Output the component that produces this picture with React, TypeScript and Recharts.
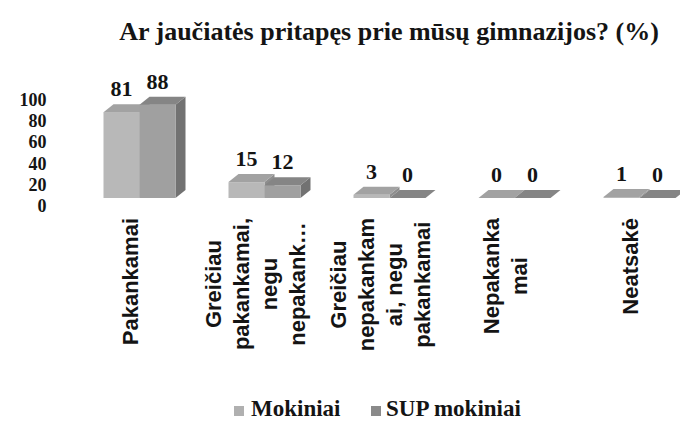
import React from 'react';
import { BarChart, Bar, XAxis, YAxis, Legend, LabelList } from 'recharts';

const title = 'Ar jaučiatės pritapęs prie mūsų gimnazijos? (%)';
const categories = [
  'Pakankamai',
  'Greičiau pakankamai, negu nepakankamai',
  'Greičiau nepakankamai, negu pakankamai',
  'Nepakankamai',
  'Neatsakė',
];
const categoryLines = [
  ['Pakankamai'],
  ['Greičiau', 'pakankamai,', 'negu', 'nepakank…'],
  ['Greičiau', 'nepakankam', 'ai, negu', 'pakankamai'],
  ['Nepakanka', 'mai'],
  ['Neatsakė'],
];
const seriesNames = ['Mokiniai', 'SUP mokiniai'];
const mokiniai = [81, 15, 3, 0, 1];
const supMokiniai = [88, 12, 0, 0, 0];
const yTicks = [0, 20, 40, 60, 80, 100];

const data = categories.map((c, i) => ({ name: c, m: mokiniai[i], s: supMokiniai[i] }));

const COLORS = {
  m: { front: '#b8b8b8', top: '#a2a2a2', side: '#8e8e8e', legend: '#b0b0b0' },
  s: { front: '#a0a0a0', top: '#858585', side: '#727272', legend: '#8a8a8a' },
};
const TEXT = '#141414';
const SERIF = "'Liberation Serif', 'Times New Roman', serif";
const SANS = "'Liberation Sans', Arial, sans-serif";
const CAT_FONT = `bold 22px ${SANS}`;

let ctx: CanvasRenderingContext2D | null = null;
const measure = (s: string) => {
  if (!ctx) ctx = document.createElement('canvas').getContext('2d');
  if (!ctx) return s.length * 12;
  ctx.font = CAT_FONT;
  return ctx.measureText(s).width;
};

const make3D = (c: { front: string; top: string; side: string }) => (props: any) => {
  const { x, y, width } = props;
  const h = Math.max(0, props.height || 0);
  const dx = 10;
  const dy = -8;
  return (
    <g>
      <polygon
        points={`${x + width},${y} ${x + width + dx},${y + dy} ${x + width + dx},${y + h + dy} ${x + width},${y + h}`}
        fill={c.side}
      />
      <rect x={x} y={y} width={width} height={h} fill={c.front} />
      <polygon
        points={`${x},${y} ${x + width},${y} ${x + width + dx},${y + dy} ${x + dx},${y + dy}`}
        fill={c.top}
      />
    </g>
  );
};

const renderLabel = (props: any) => {
  const { x, y, width, value } = props;
  return (
    <text
      x={x + width / 2}
      y={y - 16}
      textAnchor="middle"
      fontFamily={SERIF}
      fontWeight="bold"
      fontSize={22}
      fill={TEXT}
    >
      {value}
    </text>
  );
};

const YTick = (props: any) => {
  const { x, y, payload } = props;
  return (
    <text
      x={x}
      y={y + 8}
      textAnchor="end"
      dominantBaseline="central"
      fontFamily={SERIF}
      fontWeight="bold"
      fontSize={18}
      fill={TEXT}
    >
      {payload.value}
    </text>
  );
};

const CatTick = (props: any) => {
  const { x, y, payload } = props;
  const idx = categories.indexOf(payload.value);
  const lines = categoryLines[idx] || [String(payload.value)];
  const maxLen = Math.max(...lines.map(measure));
  const cy = y + maxLen / 2;
  const n = lines.length;
  return (
    <g>
      {lines.map((ln, i) => {
        const cx = x - 8 + (i - (n - 1) / 2) * 28;
        return (
          <text
            key={i}
            x={cx}
            y={cy}
            transform={`rotate(-90 ${cx} ${cy})`}
            textAnchor="middle"
            dominantBaseline="central"
            fontFamily={SANS}
            fontWeight="bold"
            fontSize={22}
            fill={TEXT}
          >
            {ln}
          </text>
        );
      })}
    </g>
  );
};

const LegendContent = () => (
  <div
    style={{
      height: 30,
      boxSizing: 'border-box',
      paddingTop: 4,
      paddingLeft: 234,
      display: 'flex',
      alignItems: 'flex-start',
      fontFamily: SERIF,
      fontWeight: 'bold',
      fontSize: 23,
      lineHeight: '24px',
      color: TEXT,
      whiteSpace: 'nowrap',
    }}
  >
    <div style={{ display: 'flex', alignItems: 'center', width: 137 }}>
      <span style={{ width: 10, height: 10, background: COLORS.m.legend, marginRight: 7, marginTop: 3 }} />
      <span>{seriesNames[0]}</span>
    </div>
    <div style={{ display: 'flex', alignItems: 'center' }}>
      <span style={{ width: 10, height: 10, background: COLORS.s.legend, marginRight: 5, marginTop: 3 }} />
      <span>{seriesNames[1]}</span>
    </div>
  </div>
);

export default function App() {
  return (
    <div
      style={{
        position: 'absolute',
        left: 0,
        top: 0,
        width: 680,
        height: 423,
        overflow: 'hidden',
        background: '#ffffff',
      }}
    >
      <div
        style={{
          position: 'absolute',
          top: 17,
          left: 389,
          transform: 'translateX(-50%)',
          whiteSpace: 'nowrap',
          fontFamily: SERIF,
          fontWeight: 'bold',
          fontSize: 26,
          lineHeight: '30px',
          color: TEXT,
          zIndex: 2,
        }}
      >
        {title}
      </div>
      <BarChart
        width={720}
        height={423}
        data={data}
        margin={{ top: 92, right: 18.5, left: 0, bottom: 0 }}
        barSize={36}
        barGap={0}
      >
        <YAxis
          type="number"
          domain={[0, 100]}
          ticks={yTicks}
          interval={0}
          width={76.5}
          axisLine={false}
          tickLine={false}
          tickSize={0}
          tickMargin={30}
          tick={<YTick />}
        />
        <XAxis
          dataKey="name"
          type="category"
          interval={0}
          height={195}
          axisLine={false}
          tickLine={false}
          tickSize={0}
          tickMargin={20}
          tick={<CatTick />}
        />
        <Legend verticalAlign="bottom" height={30} content={<LegendContent />} />
        <Bar dataKey="m" name={seriesNames[0]} isAnimationActive={false} shape={make3D(COLORS.m)}>
          <LabelList dataKey="m" content={renderLabel} />
        </Bar>
        <Bar dataKey="s" name={seriesNames[1]} isAnimationActive={false} shape={make3D(COLORS.s)}>
          <LabelList dataKey="s" content={renderLabel} />
        </Bar>
      </BarChart>
    </div>
  );
}
